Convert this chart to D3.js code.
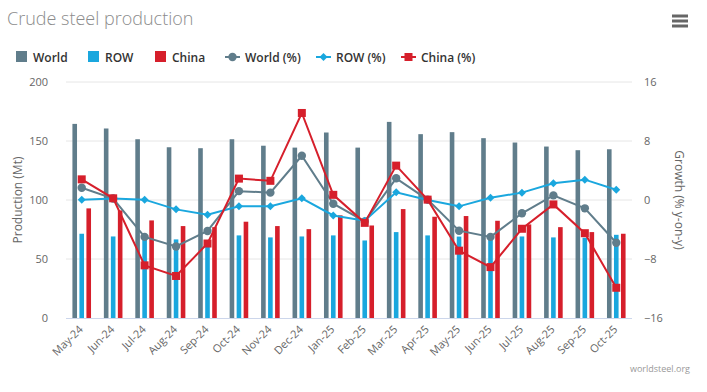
<!DOCTYPE html>
<html><head><meta charset="utf-8">
<script src="https://cdn.jsdelivr.net/npm/d3@7"></script>
<style>
body{margin:0;background:#fff;font-family:"Open Sans",sans-serif;}
svg{display:block}
</style></head>
<body>
<svg id="c" width="707" height="392"></svg>
<script>
const months = ["May-24","Jun-24","Jul-24","Aug-24","Sep-24","Oct-24","Nov-24","Dec-24","Jan-25","Feb-25","Mar-25","Apr-25","May-25","Jun-25","Jul-25","Aug-25","Sep-25","Oct-25"];
const world = [164.5,160.6,151.5,144.7,143.9,151.5,146.0,144.4,157.2,144.4,166.2,155.8,157.5,152.4,148.7,145.3,142.2,143.0];
const row   = [71.4,69.1,68.0,66.6,64.5,70.0,68.3,69.1,70.0,65.7,72.8,70.0,69.0,68.0,69.1,68.3,68.0,70.5];
const china = [92.9,91.2,82.7,77.9,77.0,81.6,77.9,75.3,87.0,78.4,92.3,85.8,86.4,82.4,79.3,77.0,72.8,71.4];
const worldPct = [1.67,0.2,-5.0,-6.3,-4.2,1.2,1.0,6.0,-0.5,-2.9,2.94,0.05,-4.16,-5.0,-1.8,0.63,-1.13,-5.8];
const rowPct   = [0.05,0.2,0.05,-1.27,-2.0,-0.86,-0.86,0.23,-2.1,-2.8,1.04,0.0,-0.86,0.3,1.0,2.26,2.76,1.4];
const chinaPct = [2.8,0.23,-8.86,-10.3,-5.9,2.9,2.6,11.8,0.7,-3.1,4.66,0.05,-6.87,-9.1,-3.9,-0.6,-4.5,-11.9];
const leftTicks = [0,50,100,150,200];
const rightTicks = [-16,-8,0,8,16];

const C = {world:"#607d8b", row:"#1aa7de", china:"#d61f2b"};
const svg = d3.select("#c");
const L = 66, R = 632, T = 82, B = 318;

svg.append("text").attr("x",7).attr("y",25).text("Crude steel production")
  .attr("font-size",18).attr("fill","#8c8c8c").attr("font-weight",300);

// hamburger
[16,21,26].forEach(y=>svg.append("rect").attr("x",672).attr("y",y-1.5).attr("width",16).attr("height",3).attr("fill","#666"));

const x = d3.scaleBand().domain(months).range([L,R]);
const yL = d3.scaleLinear().domain([0,200]).range([B,T]);
const yR = d3.scaleLinear().domain([-16,16]).range([B,T]);

// grid
svg.append("g").selectAll("line").data(leftTicks.slice(1)).join("line")
  .attr("x1",L).attr("x2",R).attr("y1",d=>yL(d)).attr("y2",d=>yL(d))
  .attr("stroke","#e6e6e6").attr("stroke-width",1);

// axes labels
const gl = svg.append("g").attr("transform",`translate(${L-18},0)`)
  .call(d3.axisLeft(yL).tickValues(leftTicks).tickSize(0).tickPadding(0));
gl.select(".domain").remove();
gl.selectAll("text").attr("font-size",11).attr("fill","#666").attr("font-family","Open Sans").attr("dy","0.35em");

const gr = svg.append("g").attr("transform",`translate(${R+12},0)`)
  .call(d3.axisRight(yR).tickValues(rightTicks).tickSize(0).tickPadding(0));
gr.select(".domain").remove();
gr.selectAll("text").attr("font-size",11).attr("fill","#666").attr("font-family","Open Sans").attr("dy","0.35em");

svg.append("text").attr("transform",`translate(22,${(T+B)/2}) rotate(-90)`).attr("text-anchor","middle")
  .text("Production (Mt)").attr("font-size",12).attr("fill","#666");
svg.append("text").attr("transform",`translate(675,${(T+B)/2}) rotate(90)`).attr("text-anchor","middle")
  .text("Growth (% y-on-y)").attr("font-size",12).attr("fill","#666");

// bars
const bw = 4.6, step = 7;
const series = [{v:world,c:C.world,o:-step},{v:row,c:C.row,o:0},{v:china,c:C.china,o:step}];
series.forEach(s=>{
  svg.append("g").selectAll("rect").data(months).join("rect")
    .attr("x",(d)=>x(d)+x.bandwidth()/2+s.o-bw/2)
    .attr("width",bw)
    .attr("y",(d,i)=>yL(s.v[i]))
    .attr("height",(d,i)=>B-yL(s.v[i]))
    .attr("fill",s.c);
});

// x axis line
svg.append("line").attr("x1",L).attr("x2",R).attr("y1",B+0.5).attr("y2",B+0.5).attr("stroke","#ccd6eb");

// x labels
svg.append("g").selectAll("text").data(months).join("text")
  .attr("transform",d=>`translate(${x(d)+x.bandwidth()/2+2},${B+12}) rotate(-45)`)
  .attr("text-anchor","end").attr("font-size",11).attr("fill","#666").text(d=>d);

// lines
const cx = d=>x(d)+x.bandwidth()/2;
function marker(g,shape,px,py,color){
  if(shape==="circle") g.append("circle").attr("cx",px).attr("cy",py).attr("r",4.2).attr("fill",color);
  else if(shape==="diamond") g.append("path").attr("d",`M${px},${py-4}L${px+4},${py}L${px},${py+4}L${px-4},${py}Z`).attr("fill",color);
  else g.append("rect").attr("x",px-4).attr("y",py-4).attr("width",8).attr("height",8).attr("fill",color);
}
function drawLine(vals,color,shape){
  const line = d3.line().x((d,i)=>cx(months[i])).y(d=>yR(d));
  svg.append("path").datum(vals).attr("d",line).attr("fill","none").attr("stroke",color).attr("stroke-width",2);
  const g = svg.append("g");
  vals.forEach((v,i)=>marker(g,shape,cx(months[i]),yR(v),color));
}
drawLine(worldPct,C.world,"circle");
drawLine(rowPct,C.row,"diamond");
drawLine(chinaPct,C.china,"square");

// legend
const leg = svg.append("g").attr("font-size",12).attr("font-weight",600).attr("fill","#333");
const items = [
  {t:"World",c:C.world,k:"bar",x:16},
  {t:"ROW",c:C.row,k:"bar",x:88},
  {t:"China",c:C.china,k:"bar",x:155},
  {t:"World (%)",c:C.world,k:"circle",x:225},
  {t:"ROW (%)",c:C.row,k:"diamond",x:316},
  {t:"China (%)",c:C.china,k:"square",x:401}
];
const ly = 57;
items.forEach(it=>{
  if(it.k==="bar"){
    leg.append("rect").attr("x",it.x).attr("y",ly-6).attr("width",11).attr("height",11).attr("fill",it.c);
    leg.append("text").attr("x",it.x+17).attr("y",ly+4.5).text(it.t).attr("fill","#333");
  } else {
    leg.append("line").attr("x1",it.x).attr("x2",it.x+15).attr("y1",ly).attr("y2",ly).attr("stroke",it.c).attr("stroke-width",2);
    marker(leg,it.k,it.x+7.5,ly,it.c);
    leg.append("text").attr("x",it.x+20).attr("y",ly+4.5).text(it.t).attr("fill","#333");
  }
});

svg.append("text").attr("x",690).attr("y",372).attr("text-anchor","end").attr("font-size",9).attr("fill","#999").text("worldsteel.org");
</script>
</body></html>
